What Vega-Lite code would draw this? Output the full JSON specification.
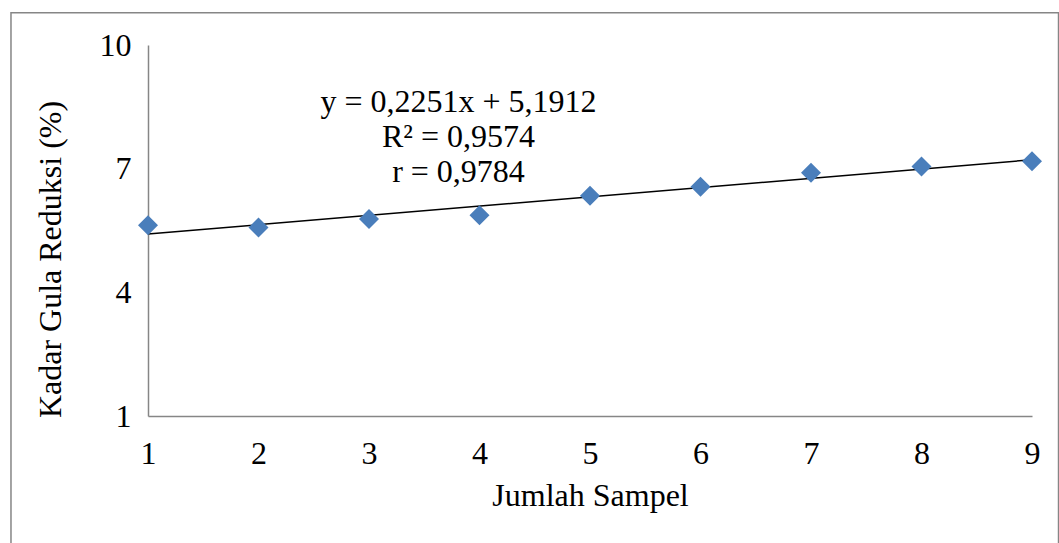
{
  "$schema": "https://vega.github.io/schema/vega-lite/v6.json",
  "autosize": {"type": "none"},
  "width": 884,
  "height": 371,
  "padding": {"left": 148, "top": 45, "right": 27, "bottom": 127},
  "background": "white",
  "config": {"view": {"stroke": null}, "font": "Liberation Serif"},
  "datasets": {
    "points": [
      {"x": 1, "y": 5.63},
      {"x": 2, "y": 5.57},
      {"x": 3, "y": 5.78},
      {"x": 4, "y": 5.87},
      {"x": 5, "y": 6.34},
      {"x": 6, "y": 6.56},
      {"x": 7, "y": 6.90},
      {"x": 8, "y": 7.05},
      {"x": 9, "y": 7.18}
    ],
    "trend": [
      {"x": 1, "y": 5.4163},
      {"x": 9, "y": 7.2171}
    ],
    "labels": [
      {"x": 3.81, "y": 8.62, "t": "y = 0,2251x + 5,1912"},
      {"x": 3.81, "y": 7.77, "t": "R² = 0,9574"},
      {"x": 3.81, "y": 6.92, "t": "r = 0,9784"}
    ],
    "frame": [
      {"x": -0.24, "x2": 9.24, "y": 10.78, "y2": -2.3}
    ]
  },
  "layer": [
    {
      "data": {"name": "frame"},
      "mark": {"type": "rect", "fill": null, "stroke": "#868686", "strokeWidth": 1.5, "clip": false},
      "encoding": {
        "x": {"field": "x", "type": "quantitative", "scale": {"domain": [1, 9]}},
        "x2": {"field": "x2"},
        "y": {"field": "y", "type": "quantitative", "scale": {"domain": [1, 10]}},
        "y2": {"field": "y2"}
      }
    },
    {
      "data": {"name": "trend"},
      "mark": {"type": "line", "color": "black", "strokeWidth": 1.5},
      "encoding": {
        "x": {"field": "x", "type": "quantitative"},
        "y": {"field": "y", "type": "quantitative"}
      }
    },
    {
      "data": {"name": "points"},
      "mark": {"type": "point", "shape": "diamond", "filled": true, "size": 400, "color": "#4a7ebb", "opacity": 1, "clip": false},
      "encoding": {
        "x": {
          "field": "x", "type": "quantitative",
          "scale": {"domain": [1, 9], "nice": false, "zero": false},
          "axis": {
            "title": "Jumlah Sampel", "values": [1,2,3,4,5,6,7,8,9], "format": "d",
            "grid": false, "ticks": false, "domainColor": "#868686", "domainWidth": 1.5,
            "labelFlush": false, "labelOverlap": false,
            "labelFont": "Liberation Serif", "labelFontSize": 32, "labelColor": "black",
            "labelPadding": 22, "titleFont": "Liberation Serif", "titleFontSize": 32,
            "titleFontWeight": "normal", "titleColor": "black", "titlePadding": 11
          }
        },
        "y": {
          "field": "y", "type": "quantitative",
          "scale": {"domain": [1, 10], "nice": false, "zero": false},
          "axis": {
            "title": "Kadar Gula Reduksi (%)", "values": [1, 4, 7, 10], "format": "d",
            "grid": false, "ticks": false, "domainColor": "#868686", "domainWidth": 1.5,
            "labelFlush": false, "labelOverlap": false,
            "labelFont": "Liberation Serif", "labelFontSize": 32, "labelColor": "black",
            "labelPadding": 17, "titleFont": "Liberation Serif", "titleFontSize": 32,
            "titleFontWeight": "normal", "titleColor": "black",
            "titleX": -98, "titleY": 214, "titleBaseline": "middle", "titleAlign": "center", "titleAngle": -90
          }
        }
      }
    },
    {
      "data": {"name": "labels"},
      "mark": {"type": "text", "font": "Liberation Serif", "fontSize": 32, "color": "black", "align": "center", "baseline": "middle"},
      "encoding": {
        "x": {"field": "x", "type": "quantitative"},
        "y": {"field": "y", "type": "quantitative"},
        "text": {"field": "t"}
      }
    }
  ]
}
